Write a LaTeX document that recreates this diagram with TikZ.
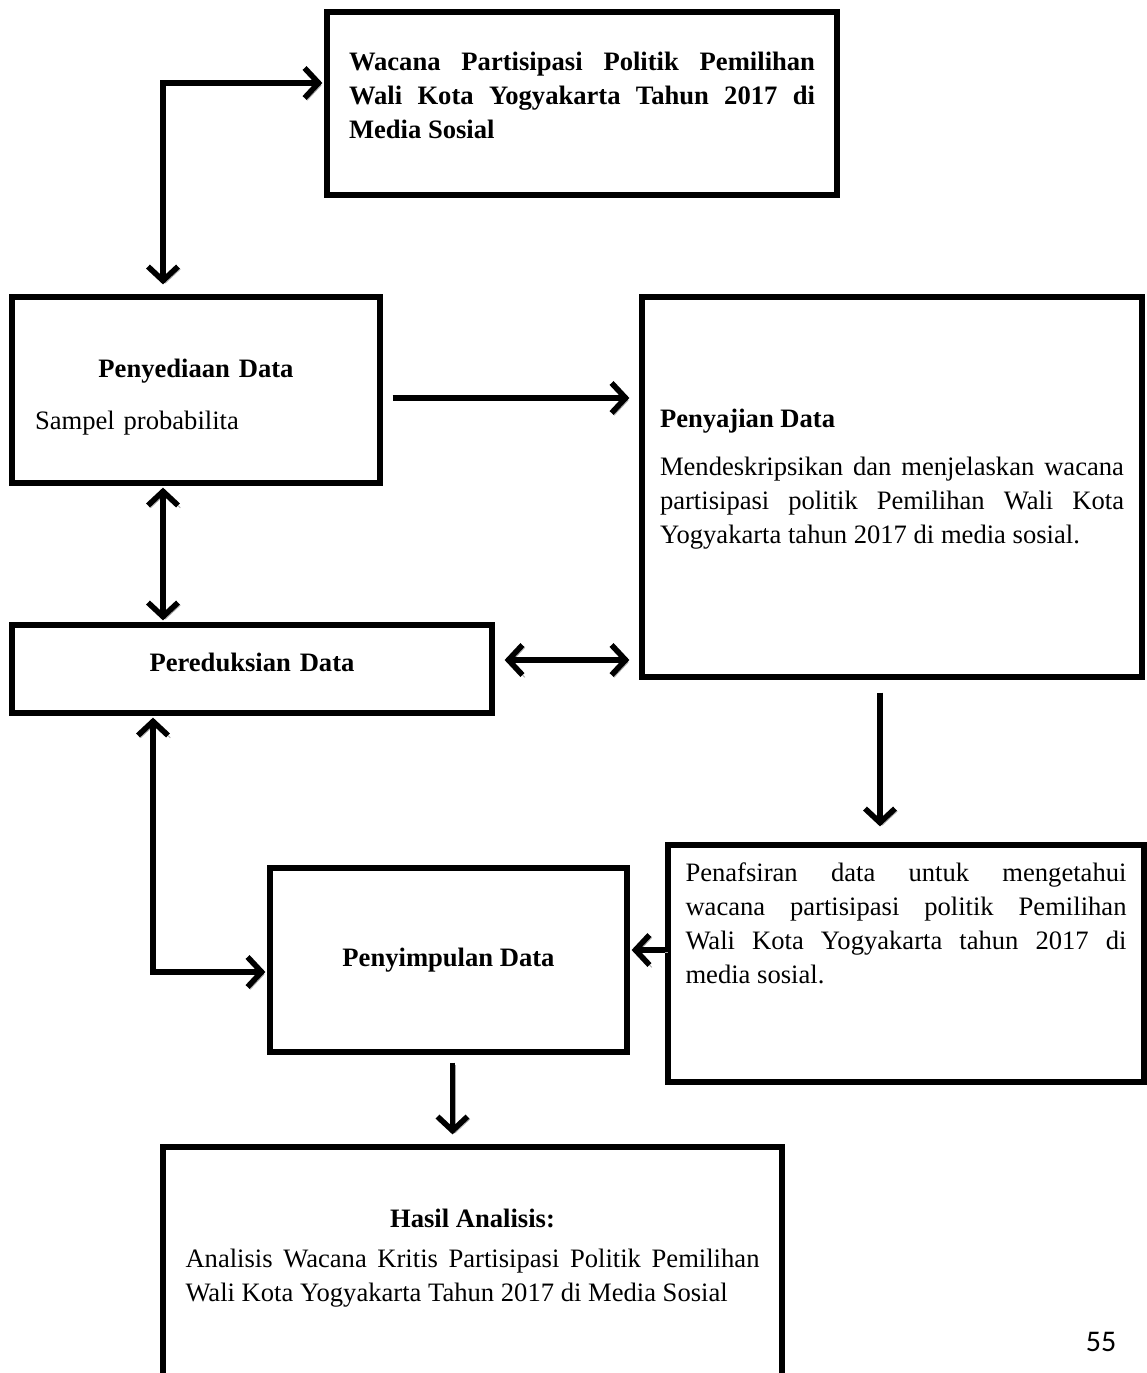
\documentclass[tikz,border=0pt]{standalone}
\usepackage{fontspec}
\setmainfont{Liberation Serif}
\newfontfamily\pagefont{Carlito}
\usetikzlibrary{arrows.meta,calc,positioning}
\hyphenpenalty=10000
\exhyphenpenalty=10000
\tikzset{box/.style={
            draw,
            line width=2.6pt,
            inner sep=0pt,
            font=\fontsize{13.3}{17}\selectfont
        },
        flow/.style={
            line width=2.8pt,
            >={Straight Barb[length=7pt,width=15pt]},
            preaction={draw=black!35,transform canvas={shift={(1.2pt,-1.2pt)}}}
        },
        pagenum/.style={
            inner sep=0pt,
            font=\pagefont\fontsize{15}{18}\selectfont
        }
    }
\begin{document}
\begin{tikzpicture}[x=0.5pt,y=-0.5pt]
        \clip (0,0) rectangle (1147,1373);

        \node[box, minimum width=255pt, minimum height=91.5pt, text width=233pt, align=justify] at (582,103.5) (wacana)
            {\textbf{Wacana Partisipasi Politik Pemilihan\linebreak Wali Kota Yogyakarta Tahun 2017 di\linebreak Media Sosial}\rule[-8.5pt]{0pt}{0pt}};
        \node[box, minimum width=184pt, minimum height=93pt, text width=161pt, align=left] at (196,390) (penyediaan)
            {{\centering\rule{0pt}{16pt}\textbf{Penyediaan Data}\par}\vspace{9pt}Sampel probabilita};
        \node[box, minimum width=250pt, minimum height=190pt, text width=232pt, align=justify] at (892,487) (penyajian)
            {\textbf{Penyajian Data}\par\vspace{7pt}Mendeskripsikan dan menjelaskan wacana\linebreak partisipasi politik Pemilihan Wali Kota\linebreak Yogyakarta tahun 2017 di media sosial.\rule[-11pt]{0pt}{0pt}};
        \node[box, minimum width=240pt, minimum height=44pt, text width=200pt, align=center] at (252,669) (pereduksian)
            {\textbf{Pereduksian Data}\rule[-7pt]{0pt}{0pt}};
        \node[box, minimum width=238pt, minimum height=118.5pt, text width=220.5pt, align=justify] at (906,963.5) (penafsiran)
            {Penafsiran data untuk mengetahui\linebreak wacana partisipasi politik Pemilihan\linebreak Wali Kota Yogyakarta tahun 2017 di\linebreak media sosial.\rule[-40pt]{0pt}{0pt}};
        \node[box, minimum width=178.5pt, minimum height=92pt] at (448.5,960) (penyimpulan)
            {\textbf{Penyimpulan Data}};
        \node[box, minimum width=309.5pt, minimum height=140pt, text width=287pt, align=justify] at (472.5,1287) (hasil)
            {{\centering\textbf{Hasil Analisis:}\par}\vspace{3pt}Analisis Wacana Kritis Partisipasi Politik Pemilihan\linebreak Wali Kota Yogyakarta Tahun 2017 di Media Sosial\rule[-32pt]{0pt}{0pt}};
        \node[pagenum] at (1101,1342) (page) {55};

        \coordinate (topbend) at (163,83);
        \draw[flow,<->,shorten <=5pt,shorten >=1pt] (penyediaan.north -| topbend) -- (topbend) -- (topbend -| wacana.west);
        \draw[flow,->,shorten <=5pt,shorten >=5pt] ([yshift=-4pt]penyediaan.east) -- ([yshift=-4pt]penyediaan.east -| penyajian.west);
        \draw[flow,<->,shorten <=1pt,shorten >=1pt] ([xshift=-16.5pt]penyediaan.south) -- ([xshift=-16.5pt]penyediaan.south |- pereduksian.north);
        \draw[flow,<->,shorten <=5pt,shorten >=5pt] ([yshift=4.5pt]pereduksian.east) -- ([yshift=4.5pt]pereduksian.east -| penyajian.west);
        \draw[flow,->,shorten <=6.5pt,shorten >=8pt] ([xshift=-6pt]penyajian.south) -- ([xshift=-6pt]penyajian.south |- penafsiran.north);
        \draw[flow,->,shorten >=1pt] ([yshift=6.75pt]penafsiran.west) -- ([yshift=6.75pt]penafsiran.west -| penyimpulan.east);
        \draw[flow,<->,shorten <=1pt,shorten >=1pt] ([xshift=-49.5pt]pereduksian.south) |- ([yshift=-6pt]penyimpulan.west);
        \draw[flow,->,shorten <=4pt,shorten >=5pt] ([xshift=2pt]penyimpulan.south) -- ([xshift=2pt]penyimpulan.south |- hasil.north);

    \end{tikzpicture}
\end{document}
